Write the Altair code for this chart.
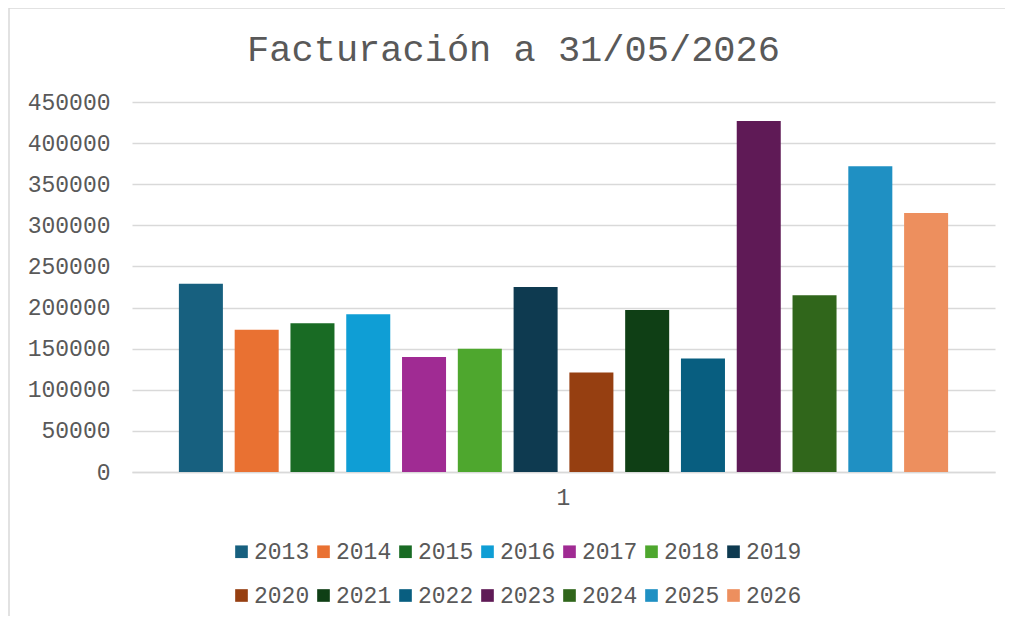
import altair as alt
import pandas as pd

years = ["2013", "2014", "2015", "2016", "2017", "2018", "2019",
         "2020", "2021", "2022", "2023", "2024", "2025", "2026"]
values = [229000, 173000, 181000, 192000, 140000, 150000, 225000,
          121000, 197000, 138000, 427000, 215000, 372000, 315000]
colors = ["#17607F", "#E97132", "#196B24", "#0F9ED5", "#A02B93", "#4EA72E", "#0E3A50",
          "#963F11", "#0F3F15", "#085E80", "#5F1A56", "#30661B", "#1F90C3", "#ED8F5E"]
categories = ["1"] * len(years)
y_ticks = [0, 50000, 100000, 150000, 200000, 250000, 300000, 350000, 400000, 450000]

df = pd.DataFrame({"cat": categories, "year": years, "value": values})

FONT = "Liberation Mono"
TXT = "#595959"
GRID = "#D9D9D9"
W, H = 863, 370

bars = alt.Chart(df).mark_bar().encode(
    x=alt.X("cat:N", title=None,
            scale=alt.Scale(paddingInner=0, paddingOuter=0.0525),
            axis=alt.Axis(labelAngle=0, ticks=False, domainColor=GRID, domainWidth=1.5,
                          labelFont=FONT, labelFontSize=23, labelColor=TXT,
                          labelPadding=14)),
    xOffset=alt.XOffset("year:N", sort=years,
                        scale=alt.Scale(paddingInner=0.211, paddingOuter=0.1055)),
    y=alt.Y("value:Q", title=None,
            scale=alt.Scale(domain=[0, 450000], nice=False),
            axis=alt.Axis(values=y_ticks, format="d", ticks=False, domain=False,
                          gridColor=GRID, gridWidth=1.5,
                          labelFont=FONT, labelFontSize=23, labelColor=TXT,
                          labelPadding=22)),
    color=alt.Color("year:N", sort=years,
                    scale=alt.Scale(domain=years, range=colors),
                    legend=alt.Legend(title=None, orient="none", direction="horizontal",
                                      columns=7, legendX=98, legendY=438,
                                      symbolType="square", symbolSize=160,
                                      symbolStrokeWidth=0, symbolOffset=0,
                                      labelFont=FONT, labelFontSize=23, labelColor=TXT,
                                      labelOffset=1, columnPadding=2, rowPadding=20,
                                      padding=0)),
)

border = alt.Chart(alt.Data(values=[{"a": 1}])).mark_rect(
    fill="transparent", stroke=GRID, strokeWidth=1.5
).encode(
    x=alt.value(-123), x2=alt.value(2000), y=alt.value(-94), y2=alt.value(2000)
)

chart = alt.layer(border, bars).properties(
    width=W, height=H,
    autosize=alt.AutoSizeParams(type="none"),
    padding={"left": 124, "top": 94, "right": 10, "bottom": 144},
    title=alt.TitleParams("Facturación a 31/05/2026", font=FONT, fontSize=37,
                          fontWeight="normal", color=TXT, anchor="middle",
                          frame="group", offset=0, dx=-50, dy=62),
).configure_view(stroke=None)

chart.save("out.html", embed_options={"renderer": "svg", "actions": False})
